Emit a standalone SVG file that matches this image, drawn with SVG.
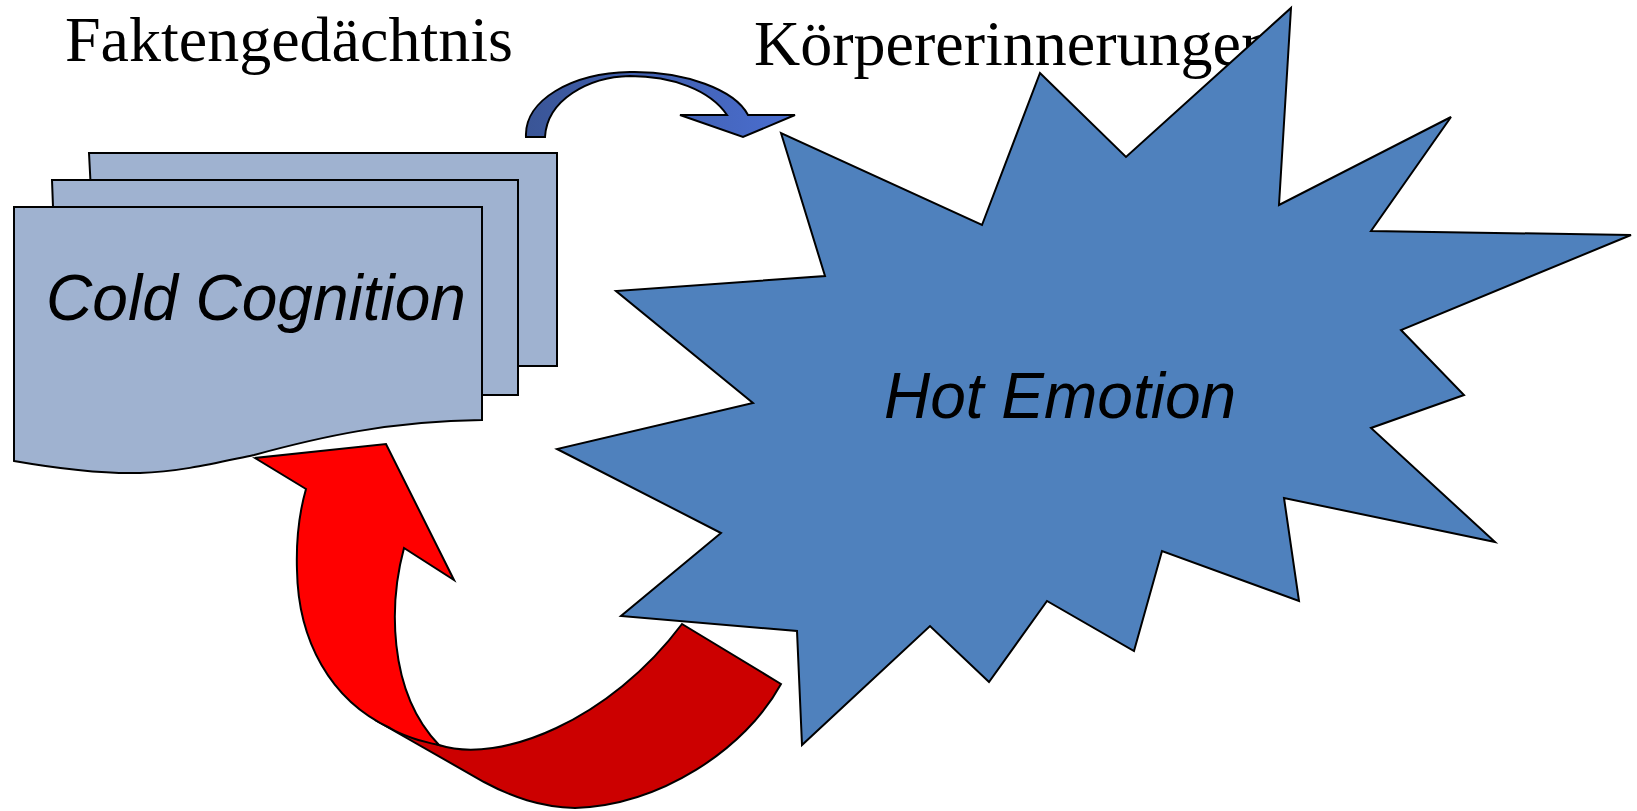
<svg xmlns="http://www.w3.org/2000/svg" width="1637" height="811" viewBox="0 0 1637 811">
<defs>
<linearGradient id="blueArrow" x1="0" y1="0" x2="1" y2="0">
<stop offset="0" stop-color="#3A5596"/>
<stop offset="1" stop-color="#4A6ED0"/>
</linearGradient>
<style>
.title{font-family:"Liberation Serif","Times New Roman",serif;font-size:64px;fill:#000}
.lbl{font-family:"Liberation Sans",Arial,sans-serif;font-size:64px;font-style:italic;fill:#000}
.doc{fill:#9FB2D0;stroke:#000;stroke-width:2}
.edge{stroke:#000;stroke-width:2;stroke-linejoin:miter}
</style>
</defs>
<rect width="1637" height="811" fill="#fff"/>
<text class="title" x="65" y="61">Faktengedächtnis</text>
<text class="title" x="754" y="65">Körpererinnerungen</text>
<g id="cold-cognition">
<path class="doc" d="M89,153 H557 V366 H100 Z"/>
<path class="doc" d="M52,180 H518 V395 H60 Z"/>
<path class="doc" d="M14,207 H482 V420 C390,421 320,437 254,455 C220,462 180,472 140,473 C100,474 60,469 14,461 Z"/>
<text class="lbl" x="256" y="320" text-anchor="middle">Cold Cognition</text>
</g>
<g id="hot-emotion">
<polygon class="edge" fill="#4F81BD" points="781,133 825,276 616,291 753,403 557,449 721,533 621,616 797,631 802,745 930,626 989,682 1047,601 1134,651 1162,551 1299,601 1284,498 1495,542 1371,428 1464,395 1401,330 1631,235 1371,231 1451,117 1279,205 1291,8 1126,157 1040,73 982,225"/>
<text class="lbl" x="1060" y="418" text-anchor="middle">Hot Emotion</text>
</g>
<g id="connectors">
<path class="edge" fill="url(#blueArrow)" d="M526,137 C524,100 572,73 630,72 C685,71 735,90 748,115 L795,115 L743,137 L680,115 L727,115 C710,90 672,76 630,76 C588,77 547,100 545,137 Z"/>
<path class="edge" fill="#CC0000" d="M682,624 L781,684 C745,750 660,805 575,808 C540,807 512,797 484,782 L375,720 L439,745 C500,765 610,720 682,624 Z"/>
<path class="edge" fill="#FF0000" d="M306,489 L255,458 L386,444 L454,580 L404,548 C390,600 386,690 439,745 C420,741 405,737 390,728 C330,700 298,640 297,570 C296,540 300,510 306,489 Z"/>
</g>
</svg>
